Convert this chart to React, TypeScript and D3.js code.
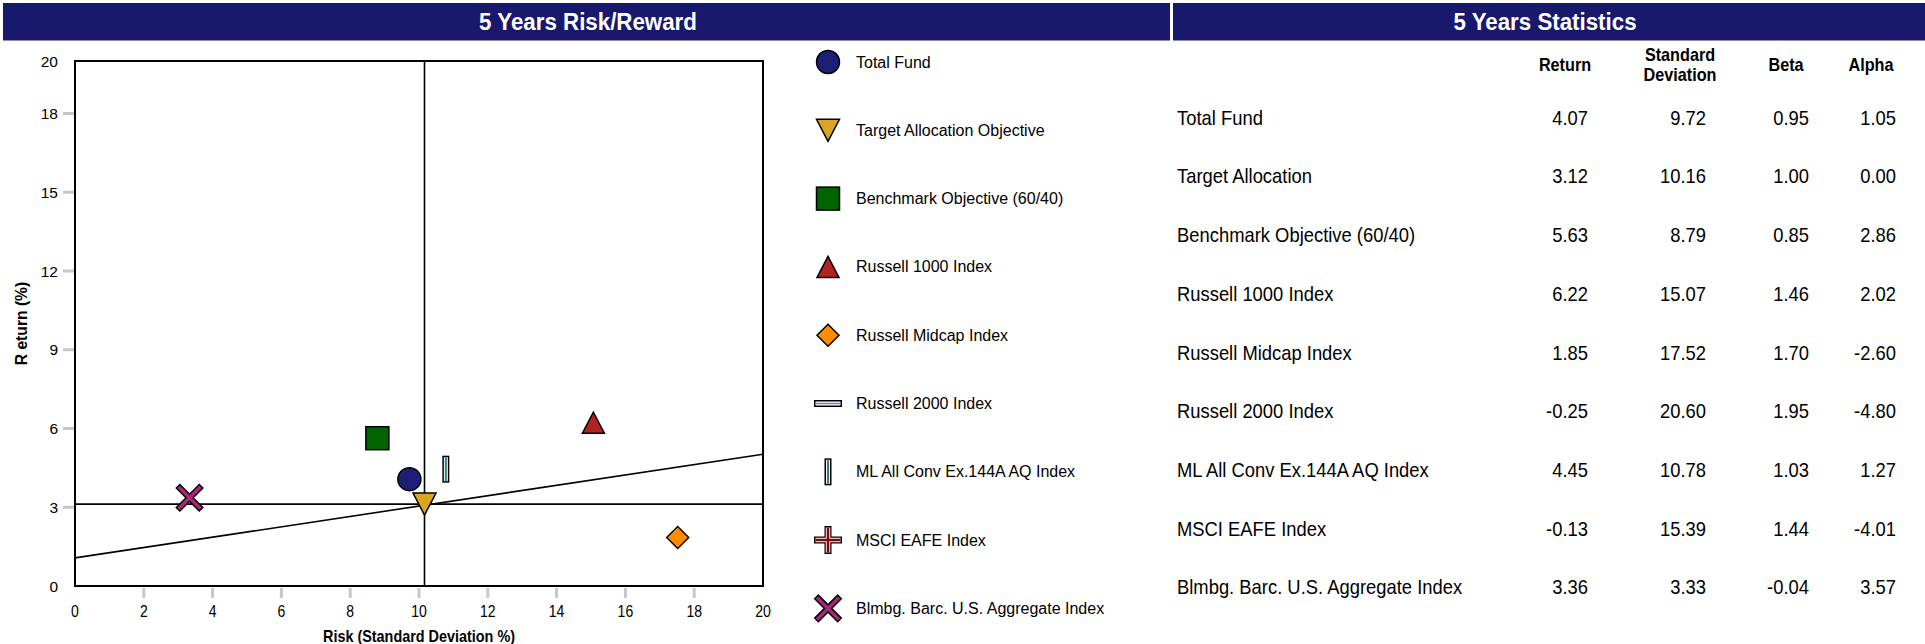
import React from 'react';
import { scaleLinear, line } from 'd3';

const legendNames = ['Total Fund', 'Target Allocation Objective', 'Benchmark Objective (60/40)', 'Russell 1000 Index', 'Russell Midcap Index', 'Russell 2000 Index', 'ML All Conv Ex.144A AQ Index', 'MSCI EAFE Index', 'Blmbg. Barc. U.S. Aggregate Index'];
const tableNames = ['Total Fund', 'Target Allocation', 'Benchmark Objective (60/40)', 'Russell 1000 Index', 'Russell Midcap Index', 'Russell 2000 Index', 'ML All Conv Ex.144A AQ Index', 'MSCI EAFE Index', 'Blmbg. Barc. U.S. Aggregate Index'];
const returns = [4.07, 3.12, 5.63, 6.22, 1.85, -0.25, 4.45, -0.13, 3.36];
const stdDevs = [9.72, 10.16, 8.79, 15.07, 17.52, 20.60, 10.78, 15.39, 3.33];
const betas = [0.95, 1.00, 0.85, 1.46, 1.70, 1.95, 1.03, 1.44, -0.04];
const alphas = [1.05, 0.00, 2.86, 2.02, -2.60, -4.80, 1.27, -4.01, 3.57];
const symbols = ['circle', 'triangleDown', 'square', 'triangleUp', 'diamond', 'hbar', 'vbar', 'plus', 'cross'];
const colors = ['#1e1e78', '#DAA520', '#006400', '#B22222', '#FF8C00', '#9966cc', '#2f8080', '#8B0000', '#a82878'];

const xTicks = [0, 2, 4, 6, 8, 10, 12, 14, 16, 18, 20];
const yTicks = [0, 3, 6, 9, 12, 15, 18, 20];
// capital market style line: return at risk 0 and at risk 20
const marketLine = [{ risk: 0, ret: 1.07 }, { risk: 20, ret: 5.02 }];

const statHeaders = [['Return'], ['Standard', 'Deviation'], ['Beta'], ['Alpha']];

const sans = "'Liberation Sans', Arial, Helvetica, sans-serif";
const navy = '#18186c';

// squeezed text, the original uses a narrow face
function Narrow({ x, y, size, bold, anchor, fill, sx, children }: any) {
  return (
    <text transform={`translate(${x},${y}) scale(${sx || 0.9},1)`} fontFamily={sans} fontSize={size}
      fontWeight={bold ? 'bold' : 'normal'} textAnchor={anchor || 'start'} dominantBaseline="central" fill={fill || '#000'}>
      {children}
    </text>
  );
}

function Marker({ type, color, x, y }: { type: string; color: string; x: number; y: number }) {
  const t = `translate(${x},${y})`;
  const sw = 1.5;
  if (type === 'circle') return <circle cx={x} cy={y} r={11.5} fill={color} stroke="#000" strokeWidth={sw} />;
  if (type === 'square') return <rect x={x - 11.5} y={y - 11.5} width={23} height={23} fill={color} stroke="#000" strokeWidth={sw} />;
  if (type === 'triangleDown') return <path transform={t} d="M-11.5,-11L11.5,-11L0,11Z" fill={color} stroke="#000" strokeWidth={sw} />;
  if (type === 'triangleUp') return <path transform={t} d="M0,-10.5L11,10.5L-11,10.5Z" fill={color} stroke="#000" strokeWidth={sw} />;
  if (type === 'diamond') return <path transform={t} d="M0,-11L11,0L0,11L-11,0Z" fill={color} stroke="#000" strokeWidth={sw} />;
  if (type === 'hbar') return (
    <g transform={t}>
      <line x1={-14} x2={14} y1={0} y2={0} stroke="#000" strokeWidth={7} />
      <line x1={-12.5} x2={12.5} y1={0} y2={0} stroke="#fff" strokeWidth={4} />
      <line x1={-12.5} x2={12.5} y1={0} y2={0} stroke={color} strokeWidth={1.5} />
    </g>
  );
  if (type === 'vbar') return (
    <g transform={t}>
      <line x1={0} x2={0} y1={-13.5} y2={13.5} stroke="#000" strokeWidth={7} />
      <line x1={0} x2={0} y1={-12} y2={12} stroke="#fff" strokeWidth={4} />
      <line x1={0} x2={0} y1={-12} y2={12} stroke={color} strokeWidth={2} />
    </g>
  );
  if (type === 'plus') return (
    <g transform={t}>
      <path d="M-14,0H14M0,-14V14" stroke="#000" strokeWidth={7} />
      <path d="M-12.5,0H12.5M0,-12.5V12.5" stroke="#fff" strokeWidth={4.5} />
      <path d="M-12.5,0H12.5M0,-12.5V12.5" stroke={color} strokeWidth={2.5} />
    </g>
  );
  return (
    <g transform={t}>
      <path d="M-12,-12L12,12M12,-12L-12,12" stroke="#000" strokeWidth={6.5} />
      <path d="M-11,-11L11,11M11,-11L-11,11" stroke={color} strokeWidth={3.5} />
    </g>
  );
}

export default function App() {
  const x = scaleLinear().domain([0, 20]).range([75, 763]);
  const y = scaleLinear().domain([0, 20]).range([586, 61]);
  const mLine = line<{ risk: number; ret: number }>().x(d => x(d.risk)).y(d => y(d.ret));

  const target = 1; // Target Allocation defines the cross lines
  const legendY = (i: number) => 62 + i * 68.3;
  const rowY = (i: number) => 118 + i * 58.7;
  const colRight = [1588, 1706, 1809, 1896];
  const headCenter = [1565, 1680, 1786, 1871];

  return (
    <svg width={1925} height={644} style={{ position: 'absolute', left: 0, top: 0, background: '#fff' }}>
      {/* headers */}
      <rect x={3} y={3} width={1167} height={37.5} fill={navy} />
      <rect x={1173} y={3} width={752} height={37.5} fill={navy} />
      <Narrow x={588} y={22} size={24} bold anchor="middle" fill="#fff" sx={0.93}>5 Years Risk/Reward</Narrow>
      <Narrow x={1545} y={22} size={24} bold anchor="middle" fill="#fff" sx={0.93}>5 Years Statistics</Narrow>

      {/* y ticks */}
      {yTicks.map(d => (
        <g key={'y' + d}>
          {d > 0 && d < 20 && <line x1={63} x2={74} y1={y(d)} y2={y(d)} stroke="#c4c8cc" strokeWidth={3} />}
          <text x={58} y={y(d)} fontFamily={sans} fontSize={15.5} textAnchor="end" dominantBaseline="central" fill="#000">{d}</text>
        </g>
      ))}
      {/* x ticks */}
      {xTicks.map(d => (
        <g key={'x' + d}>
          {d > 0 && d < 20 && <line x1={x(d)} x2={x(d)} y1={588} y2={598} stroke="#c4c8cc" strokeWidth={3} />}
          <Narrow x={x(d)} y={611} size={16.5} anchor="middle" sx={0.85}>{d}</Narrow>
        </g>
      ))}
      <Narrow x={419} y={636} size={16} bold anchor="middle" sx={0.9}>Risk (Standard Deviation %)</Narrow>
      <text transform={`translate(21,${(y(0) + y(20)) / 2}) rotate(-90) scale(0.95,1)`} fontFamily={sans} fontWeight="bold" fontSize={16.5} textAnchor="middle" dominantBaseline="central">R eturn (%)</text>

      {/* reference lines */}
      <path d={mLine(marketLine) || ''} stroke="#000" strokeWidth={1.6} fill="none" />
      <line x1={x(0)} x2={x(20)} y1={y(returns[target])} y2={y(returns[target])} stroke="#000" strokeWidth={1.6} />
      <line x1={x(stdDevs[target])} x2={x(stdDevs[target])} y1={y(0)} y2={y(20)} stroke="#000" strokeWidth={1.6} />
      <rect x={x(0)} y={y(20)} width={x(20) - x(0)} height={y(0) - y(20)} fill="none" stroke="#000" strokeWidth={2} />

      {/* points */}
      {returns.map((r, i) => {
        const s = stdDevs[i];
        if (s < 0 || s > 20 || r < 0 || r > 20) return null;
        return <Marker key={'p' + i} type={symbols[i]} color={colors[i]} x={x(s)} y={y(r)} />;
      })}

      {/* legend */}
      {legendNames.map((n, i) => (
        <g key={'l' + i}>
          <Marker type={symbols[i]} color={colors[i]} x={828} y={legendY(i)} />
          <text x={856} y={legendY(i)} fontFamily={sans} fontSize={16} dominantBaseline="central" fill="#000">{n}</text>
        </g>
      ))}

      {/* statistics table */}
      {statHeaders.map((h, j) => (
        <g key={'h' + j}>
          {h.length === 1 ? (
            <Narrow x={headCenter[j]} y={65} size={18} bold anchor="middle" sx={0.9}>{h[0]}</Narrow>
          ) : (
            h.map((w, k) => (
              <Narrow key={k} x={headCenter[j]} y={55 + k * 20} size={18} bold anchor="middle" sx={0.9}>{w}</Narrow>
            ))
          )}
        </g>
      ))}
      {tableNames.map((n, i) => {
        const vals = [returns[i], stdDevs[i], betas[i], alphas[i]];
        return (
          <g key={'r' + i}>
            <Narrow x={1177} y={rowY(i)} size={20} sx={0.92}>{n}</Narrow>
            {vals.map((v, j) => (
              <Narrow key={j} x={colRight[j]} y={rowY(i)} size={20} anchor="end" sx={0.92}>{v.toFixed(2)}</Narrow>
            ))}
          </g>
        );
      })}
    </svg>
  );
}
